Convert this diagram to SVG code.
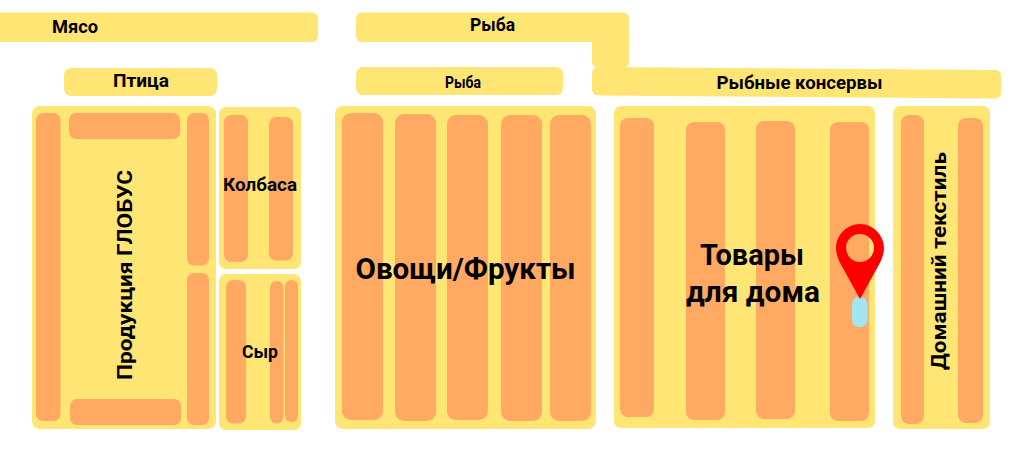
<svg xmlns="http://www.w3.org/2000/svg" width="1014" height="466" viewBox="0 0 1014 466">
<style>
.y{fill:#FEE574}
.o{fill:#FFA963}
text{font-family:"Roboto","Noto Sans","Liberation Sans",sans-serif;font-weight:700;fill:#000;text-anchor:middle}
</style>
<rect width="1014" height="466" fill="#fff"/>
<g id="meat"><rect class="y" x="-10" y="12.5" width="328" height="29.5" rx="6"/><text x="75" y="32.500" font-size="18.500" textLength="46" lengthAdjust="spacingAndGlyphs">Мясо</text></g>
<g id="poultry"><rect class="y" x="64" y="68" width="153" height="28" rx="7"/><text x="141" y="87" font-size="17.500" textLength="56" lengthAdjust="spacingAndGlyphs">Птица</text></g>
<g id="fish-top"><rect class="y" x="356" y="12.5" width="273" height="29.5" rx="6"/><rect class="y" x="592" y="30" width="37" height="38" rx="6"/><text x="492.500" y="31" font-size="18" textLength="45" lengthAdjust="spacingAndGlyphs">Рыба</text></g>
<g id="fish"><rect class="y" x="356" y="67" width="207" height="28" rx="7"/><text x="463" y="88" font-size="16" textLength="36" lengthAdjust="spacingAndGlyphs">Рыба</text></g>
<g id="canned"><path class="y" d="M599 67 L995 70 Q1001 70 1001 76 L1001 92 Q1001 98.500 995 98.500 L599 95.500 Q592 95.500 592 89 L592 74 Q592 67 599 67Z"/><text x="799.500" y="89" font-size="18" textLength="166" lengthAdjust="spacingAndGlyphs">Рыбные консервы</text></g>
<g id="globus"><rect class="y" x="32" y="106" width="184" height="323" rx="8"/>
<rect class="o" x="36" y="113" width="24.500" height="308" rx="7"/><rect class="o" x="69" y="113" width="111" height="26" rx="7"/><rect class="o" x="187" y="113" width="22" height="152.500" rx="7"/><rect class="o" x="187" y="273" width="22" height="152" rx="7"/><rect class="o" x="70" y="399" width="111" height="26" rx="7"/>
<text transform="translate(132 275) rotate(-90)" font-size="20" textLength="210" lengthAdjust="spacingAndGlyphs">Продукция ГЛОБУС</text></g>
<g id="sausage"><rect class="y" x="219" y="107" width="82" height="162" rx="7"/><rect class="o" x="224" y="115" width="24" height="147" rx="7"/><rect class="o" x="269" y="117" width="24" height="143.500" rx="7"/><text x="260" y="191" font-size="18" textLength="74" lengthAdjust="spacingAndGlyphs">Колбаса</text></g>
<g id="cheese"><rect class="y" x="219" y="274" width="82" height="156" rx="7"/><rect class="o" x="226" y="280" width="20" height="143.500" rx="7"/><rect class="o" x="270" y="281" width="13.500" height="142.500" rx="6.500"/><rect class="o" x="285" y="280" width="13" height="142" rx="6"/><text x="260" y="357.500" font-size="18" textLength="36" lengthAdjust="spacingAndGlyphs">Сыр</text></g>
<g id="vegetables"><rect class="y" x="335" y="106" width="261" height="323" rx="8"/><rect class="o" x="342" y="113" width="41" height="307" rx="9"/><rect class="o" x="395" y="114" width="41" height="307" rx="9"/><rect class="o" x="447" y="115" width="41" height="305" rx="9"/><rect class="o" x="501" y="115" width="41" height="306" rx="9"/><rect class="o" x="550" y="115" width="41" height="306" rx="9"/><text x="465.500" y="279" font-size="30" textLength="220" lengthAdjust="spacingAndGlyphs">Овощи/Фрукты</text></g>
<g id="home"><rect class="y" x="614" y="106" width="261" height="322" rx="7"/><rect class="o" x="620" y="118" width="34" height="299" rx="8"/><rect class="o" x="686" y="122" width="39" height="298" rx="8"/><rect class="o" x="756" y="121" width="39" height="298" rx="8"/><rect class="o" x="830" y="122" width="39" height="299" rx="8"/><text x="752" y="265" font-size="29" textLength="104" lengthAdjust="spacingAndGlyphs">Товары</text><text x="753" y="302" font-size="29" textLength="134" lengthAdjust="spacingAndGlyphs">для дома</text></g>
<g id="textile"><rect class="y" x="893" y="106" width="97" height="323" rx="7"/><rect class="o" x="901" y="115" width="23" height="309" rx="8"/><rect class="o" x="958" y="118" width="25" height="305" rx="8"/><text transform="translate(945.500 261) rotate(-90)" font-size="21" textLength="218" lengthAdjust="spacingAndGlyphs">Домашний текстиль</text></g>
<g id="pin"><rect x="852" y="297" width="15.500" height="30" rx="7" fill="#A4E5F2"/><path fill-rule="evenodd" fill="#F00" d="M860 224 C873 224 884 235 884 248 C884 256 880 263 876 270 L860 299 L844 270 C840 263 836 256 836 248 C836 235 847 224 860 224Z M860 234 A14 14 0 1 0 860 262 A14 14 0 1 0 860 234Z"/></g>
<g id="connectors"></g>
</svg>
